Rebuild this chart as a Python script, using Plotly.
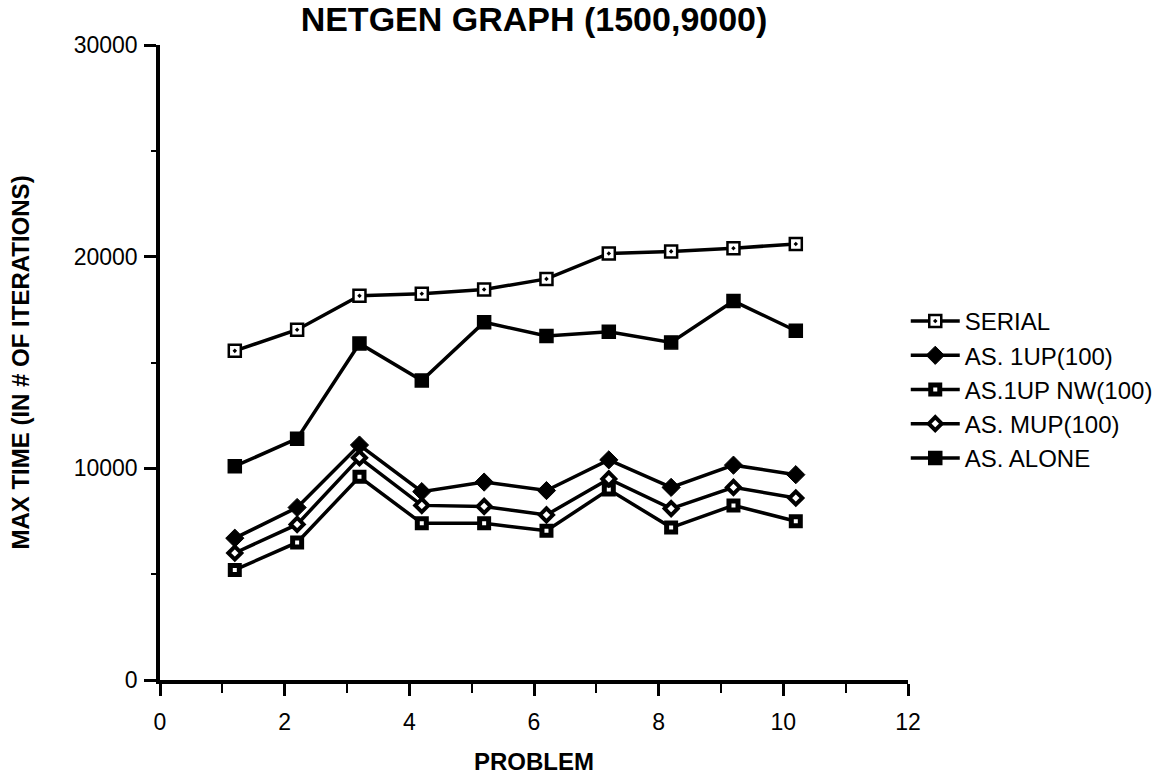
import plotly.graph_objects as go

# Problem index positions on the x axis
problem = [1.2, 2.2, 3.2, 4.2, 5.2, 6.2, 7.2, 8.2, 9.2, 10.2]

# Max time (number of iterations) per method
serial = [15550, 16550, 18150, 18250, 18450, 18950, 20150, 20250, 20400, 20600]
as_1up = [6700, 8150, 11100, 8900, 9350, 8950, 10400, 9100, 10150, 9700]
as_1up_nw = [5200, 6500, 9600, 7400, 7400, 7050, 9000, 7200, 8250, 7500]
as_mup = [6000, 7350, 10500, 8250, 8200, 7800, 9500, 8100, 9100, 8600]
as_alone = [10100, 11400, 15900, 14150, 16900, 16250, 16450, 15950, 17900, 16500]

FONT = "Liberation Sans, Arial, Helvetica, sans-serif"
BLACK = "#000000"

fig = go.Figure()

series = [
    ("SERIAL", serial, dict(symbol="square-dot", size=12, color="white",
                            line=dict(color=BLACK, width=2.5))),
    ("AS. 1UP(100)", as_1up, dict(symbol="diamond", size=14, color=BLACK,
                                  line=dict(color=BLACK, width=1))),
    ("AS.1UP NW(100)", as_1up_nw, dict(symbol="square", size=9, color="white",
                                       line=dict(color=BLACK, width=5))),
    ("AS. MUP(100)", as_mup, dict(symbol="diamond", size=10, color="white",
                                  line=dict(color=BLACK, width=4))),
    ("AS. ALONE", as_alone, dict(symbol="square", size=13, color=BLACK,
                                 line=dict(color=BLACK, width=1.5))),
]

for name, vals, marker in series:
    fig.add_trace(go.Scatter(
        x=problem, y=vals, name=name, mode="lines+markers",
        line=dict(color=BLACK, width=3.5),
        marker=marker,
    ))

fig.update_layout(
    width=1176, height=775,
    margin=dict(l=160, r=268, t=45, b=95, autoexpand=False),
    paper_bgcolor="white", plot_bgcolor="white",
    font=dict(family=FONT, color=BLACK, size=22),
    title=dict(text="<b>NETGEN GRAPH (1500,9000)</b>", x=534 / 1176, xanchor="center",
               y=1 - 19 / 775, yanchor="middle", font=dict(size=34, family=FONT)),
    legend=dict(x=0.997, y=0.6, xanchor="left", yanchor="top",
                font=dict(size=24, family=FONT), bgcolor="rgba(0,0,0,0)",
                itemwidth=49, tracegroupgap=0),
    showlegend=True,
)

fig.update_xaxes(
    range=[0, 12], tickmode="linear", tick0=0, dtick=2, tickformat="d",
    ticks="outside", ticklen=12, tickwidth=2.5, tickcolor=BLACK,
    minor=dict(dtick=1, ticks="outside", ticklen=9, tickwidth=2, tickcolor=BLACK),
    showline=True, linecolor=BLACK, linewidth=3.5, showgrid=False, zeroline=False,
    tickfont=dict(size=23, family=FONT), ticklabelstandoff=7,
    automargin=False,
    title=dict(text="<b>PROBLEM</b>", font=dict(size=24, family=FONT), standoff=22),
)

fig.update_yaxes(
    range=[0, 30000], tickmode="linear", tick0=0, dtick=10000, tickformat="d",
    ticks="outside", ticklen=12, tickwidth=2.5, tickcolor=BLACK,
    minor=dict(dtick=5000, ticks="outside", ticklen=5, tickwidth=2, tickcolor=BLACK),
    showline=True, linecolor=BLACK, linewidth=3.5, showgrid=False, zeroline=False,
    tickfont=dict(size=23, family=FONT), ticklabelstandoff=2,
    automargin=False,
    title=dict(text="<b>MAX TIME (IN # OF ITERATIONS)</b>", font=dict(size=24, family=FONT),
               standoff=38),
)

fig.write_html("out.html")
